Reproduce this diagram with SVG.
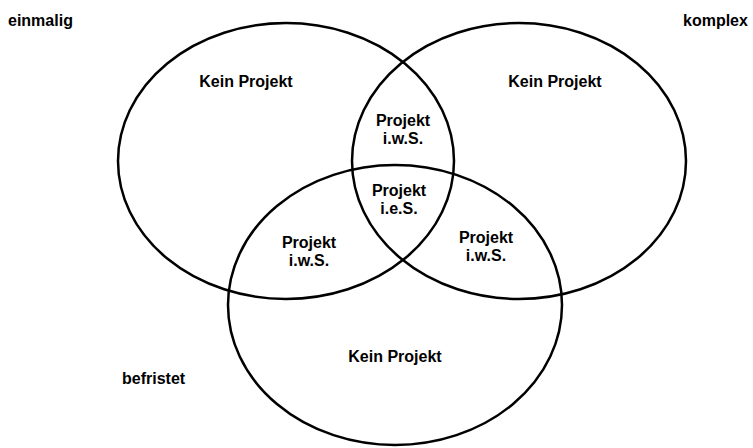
<svg xmlns="http://www.w3.org/2000/svg" width="753" height="448" viewBox="0 0 753 448">
  <style>
    .set { fill: none; stroke: #000; stroke-width: 2.5; }
    text { font-family: "Liberation Sans", Arial, sans-serif; font-weight: bold; font-size: 16px; fill: #000; text-anchor: middle; }
    .corner { text-anchor: start; }
  </style>
  <rect width="753" height="448" fill="#fff"/>

  <!-- the three sets -->
  <g id="set-einmalig">
    <ellipse class="set" cx="286" cy="161" rx="168" ry="138"/>
  </g>
  <g id="set-komplex">
    <ellipse class="set" cx="519" cy="161" rx="167" ry="138"/>
  </g>
  <g id="set-befristet">
    <ellipse class="set" cx="395" cy="305" rx="167" ry="140"/>
  </g>

  <!-- set names -->
  <g id="label-einmalig"><text class="corner" x="8" y="26">einmalig</text></g>
  <g id="label-komplex"><text class="corner" x="683" y="26">komplex</text></g>
  <g id="label-befristet"><text class="corner" x="122" y="384">befristet</text></g>

  <!-- regions -->
  <g id="region-left"><text x="246" y="87">Kein Projekt</text></g>
  <g id="region-right"><text x="555" y="87">Kein Projekt</text></g>
  <g id="region-bottom"><text x="395" y="362">Kein Projekt</text></g>
  <g id="region-top-overlap"><text x="403" y="126">Projekt</text><text x="403" y="144">i.w.S.</text></g>
  <g id="region-center"><text x="399" y="196">Projekt</text><text x="399" y="214">i.e.S.</text></g>
  <g id="region-left-overlap"><text x="309" y="248">Projekt</text><text x="309" y="266">i.w.S.</text></g>
  <g id="region-right-overlap"><text x="486" y="243">Projekt</text><text x="486" y="261">i.w.S.</text></g>
</svg>
